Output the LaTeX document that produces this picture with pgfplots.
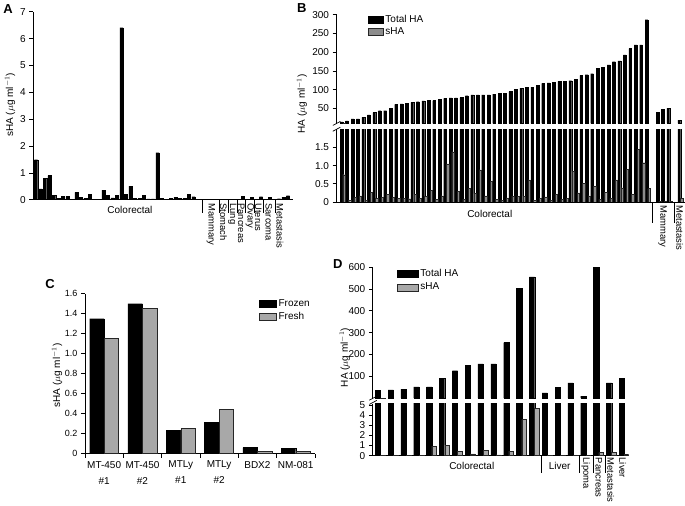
\documentclass[border=0pt]{standalone}
\usepackage{pgfplots}
\pgfplotsset{compat=1.18}
\usepackage{fontspec}
\setmainfont{Liberation Sans}
\newcommand{\unitlab}{($\mu$g ml$^{-1}$)}
\definecolor{shagray}{gray}{0.55}
\definecolor{fresh}{gray}{0.66}
\pgfplotsset{
  panel/.style={
    scale only axis, anchor=south west,
    axis x line*=bottom, axis y line*=left,
    tick align=outside, major tick length=4pt,
    axis line style={line width=0.7pt},
    tick style={black, line width=0.7pt},
    tick label style={font=\fontsize{10}{12}\selectfont},
    /pgf/number format/assume math mode=true,
    xtick=\empty,
  },
  blk/.style={fill=black, draw=black, line width=0.2pt},
  gry/.style={fill=#1, draw=black!85, line width=0.4pt},
  boxleg/.style={
    legend image code/.code={\draw[##1] (0pt,-3.5pt) rectangle (#1,3.5pt);},
    legend cell align=left,
  },
}
\begin{document}
\begin{tikzpicture}[x=1pt,y=1pt]
\path (0,0) rectangle (685,505);

% ---------------- A ----------------
\begin{axis}[panel, at={(33.3pt,306pt)}, width=259.7pt, height=188pt,
  xmin=0.4, xmax=58.1, ymin=0, ymax=7, ytick={0,...,7}]
\addplot[ybar, bar width=3.2pt, blk] coordinates {
(1,1.49)(2,0.40)(3,0.79)(4,0.90)(5,0.17)(6,0.06)(7,0.12)(8,0.12)(10,0.27)
(11,0.09)(12,0.06)(13,0.21)(14,0.02)(15,0.02)(16,0.36)(17,0.17)(18,0.07)(19,0.16)(20,6.41)
(21,0.19)(22,0.51)(23,0.05)(24,0.05)(25,0.16)(26,0.03)(27,0.03)(28,1.75)(29,0.06)
(31,0.05)(32,0.09)(33,0.06)(34,0.06)(35,0.19)(36,0.11)(37,0.01)
(39,0.01)(40,0.01)(41,0.01)(42,0.01)(43,0.01)(44,0.01)(45,0.01)(46,0.01)(47,0.13)
(48,0.02)(49,0.10)(50,0.02)(51,0.11)(52,0.02)(53,0.09)(54,0.02)(55,0.04)(56,0.09)(57,0.15)
};
\end{axis}
\node[font=\bfseries\fontsize{13}{13}\selectfont] at (8,497) {A};
\node[rotate=90, font=\fontsize{10}{12}\selectfont] at (10,401) {sHA \unitlab};
\node[font=\fontsize{10}{12}\selectfont] at (130,296) {Colorectal};
\foreach \sx in {202.7,219,228,237,245,254,263,275}
  \draw[line width=0.6pt] (\sx,306) -- (\sx,293);
\foreach \lx/\lt in {211/Mammary,223.5/Stomach,232.5/Lung,241.5/Pancreas,250/Ovary,258.5/Uterus,269/Sarcoma,280/Metastasis}
  \node[rotate=-90, anchor=west, inner sep=0pt, font=\fontsize{9.4}{10}\selectfont] at (\lx,302.5) {\lt};

% ---------------- B ----------------
\begin{axis}[panel, at={(336.7pt,382.3pt)}, width=348.3pt, height=108.7pt,
  xmin=0.083, xmax=64, ymin=10, ymax=300, ytick={50,100,...,300},
  x axis line style={draw=none}, boxleg=15pt,
  legend style={at={(0.09,1.02)}, anchor=north west, draw=none, fill=none,
    inner sep=0pt, row sep=0pt, font=\fontsize{10}{10}\selectfont}]
\addplot[ybar, bar width=2.8pt, blk] coordinates {
(1,14)(2,17)(3,22)(4,22)(5,26)(6,33)(7,39)(8,44)(9,44)(10,50)(11,61)(12,62)(13,64)
(14,66)(15,68)(16,70)(17,71)(18,71)(19,74)(20,77)(21,78)(22,78)(23,79)(24,84)(25,86)
(26,86)(27,86)(28,86)(29,88)(30,90)(31,91)(32,95)(33,101)(34,104)(35,106)(36,107)
(37,112)(38,117)(39,118)(40,120)(41,122)(42,123)(43,124)(44,128)(45,138)(46,140)
(47,143)(48,157)(49,160)(50,166)(51,175)(52,177)(53,193)(54,210)(55,220)(56,220)
(57,287)(59,39)(60,47)(61,51)(63,19)
};
\addlegendentry{Total HA}
\addplot[ybar, bar width=2.3pt, bar shift=2.6pt, gry=shagray] coordinates {(1,0.75)};
\addlegendentry{sHA}
\end{axis}
\begin{axis}[panel, at={(336.7pt,303.7pt)}, width=348.3pt, height=72.8pt,
  xmin=0.083, xmax=64, ymin=0, ymax=2, ytick={0,0.5,1,1.5}, yticklabels={0,0.5,1.0,1.5}]
\addplot[ybar, bar width=2.8pt, blk] coordinates {
(1,14)(2,17)(3,22)(4,22)(5,26)(6,33)(7,39)(8,44)(9,44)(10,50)(11,61)(12,62)(13,64)
(14,66)(15,68)(16,70)(17,71)(18,71)(19,74)(20,77)(21,78)(22,78)(23,79)(24,84)(25,86)
(26,86)(27,86)(28,86)(29,88)(30,90)(31,91)(32,95)(33,101)(34,104)(35,106)(36,107)
(37,112)(38,117)(39,118)(40,120)(41,122)(42,123)(43,124)(44,128)(45,138)(46,140)
(47,143)(48,157)(49,160)(50,166)(51,175)(52,177)(53,193)(54,210)(55,220)(56,220)
(57,287)(59,39)(60,47)(61,51)(63,19)
};
\addplot[ybar, bar width=2.3pt, bar shift=2.6pt, gry=shagray] coordinates {
(1,0.75)(2,0.05)(3,0.12)(4,0.17)(5,0.05)(6,0.27)(7,0.10)(8,0.13)(9,0.21)(10,0.13)
(11,0.10)(12,0.10)(13,0.09)(14,0.21)(15,0.10)(16,0.15)(17,0.32)(18,0.07)(19,0.17)
(20,1.05)(21,1.38)(22,0.30)(23,0.07)(24,0.38)(25,0.23)(26,0.88)(27,0.17)(28,0.56)
(29,0.07)(30,0.05)(31,0.11)(32,0.16)(33,0.15)(34,0.16)(35,0.61)(36,0.05)(37,0.10)
(38,0.14)(39,0.05)(40,0.21)(41,0.07)(42,0.10)(43,0.84)(44,0.25)(45,0.52)(46,0.17)
(47,0.43)(48,0.07)(49,0.26)(50,0.10)(51,0.61)(52,0.39)(53,0.89)(54,0.21)(55,1.45)
(56,1.08)(57,0.37)(59,0.02)(60,0.01)(61,0.01)(63,0.10)
};
\end{axis}
\draw[line width=0.7pt] (333,380.3) -- (340.5,384.3);
\draw[line width=0.7pt] (333,374.5) -- (340.5,378.5);
\node[font=\bfseries\fontsize{13}{13}\selectfont] at (302,498) {B};
\node[rotate=90, font=\fontsize{10}{12}\selectfont] at (302,402) {HA \unitlab};
\node[font=\fontsize{10}{12}\selectfont] at (490,292) {Colorectal};
\foreach \sx in {652.7,675}
  \draw[line width=0.6pt] (\sx,303.7) -- (\sx,283);
\foreach \lx/\lt in {663/Mammary,680/Metastasis}
  \node[rotate=-90, anchor=west, inner sep=0pt, font=\fontsize{9.4}{10}\selectfont] at (\lx,300.5) {\lt};

% ---------------- C ----------------
\begin{axis}[panel, at={(85pt,52pt)}, width=230pt, height=160pt,
  xmin=-0.5, xmax=5.5, ymin=0, ymax=1.6,
  ytick={0,0.2,0.4,0.6,0.8,1.0,1.2,1.4,1.6},
  yticklabels={0,0.2,0.4,0.6,0.8,1.0,1.2,1.4,1.6},
  yticklabel style={font=\fontsize{9}{11}\selectfont},
  xtick={-0.5,0.5,1.5,2.5,3.5,4.5,5.5}, x tick label as interval,
  xticklabels={{MT-450\\\#1},{MT-450\\\#2},{MTLy\\\#1},{MTLy\\\#2},BDX2,NM-081},
  xticklabel style={align=center, font=\fontsize{10}{16}\selectfont},
  boxleg=17pt,
  legend style={at={(0.757,0.975)}, anchor=north west, draw=none, fill=none,
    inner sep=0pt, row sep=0pt, font=\fontsize{10}{10}\selectfont}]
\addplot[ybar, bar width=14.5pt, bar shift=-7.25pt, blk] coordinates {
(0,1.35)(1,1.50)(2,0.23)(3,0.31)(4,0.06)(5,0.05)};
\addlegendentry{Frozen}
\addplot[ybar, bar width=14.5pt, bar shift=7.25pt, gry=fresh] coordinates {
(0,1.15)(1,1.45)(2,0.25)(3,0.44)(4,0.02)(5,0.025)};
\addlegendentry{Fresh}
\end{axis}
\node[font=\bfseries\fontsize{13}{13}\selectfont] at (50,222) {C};
\node[rotate=90, font=\fontsize{10}{12}\selectfont] at (57,130) {sHA \unitlab};

% ---------------- D ----------------
\begin{axis}[panel, at={(373pt,107.4pt)}, width=256pt, height=131.1pt,
  xmin=0.61, xmax=20.53, ymin=0, ymax=600, ytick={100,200,...,600},
  x axis line style={draw=none}, boxleg=21pt,
  legend style={at={(0.094,1.0)}, anchor=north west, draw=none, fill=none,
    inner sep=0pt, row sep=1pt, font=\fontsize{10}{10}\selectfont}]
\addplot[ybar, bar width=5.3pt, blk] coordinates {
(1,35)(2,38)(3,42)(4,52)(5,52)(6,90)(7,126)(8,152)(9,157)(10,157)(11,255)(12,504)
(13,556)(14,24)(15,51)(16,70)(17,10)(18,650)(19,70)(20,91)};
\addlegendentry{Total HA}
\addplot[ybar, bar width=4.7pt, bar shift=5pt, gry=fresh] coordinates {(1,0.05)};
\addlegendentry{sHA}
\end{axis}
\begin{axis}[panel, at={(373pt,50pt)}, width=256pt, height=51.7pt,
  xmin=0.61, xmax=20.53, ymin=0, ymax=5.1, ytick={0,...,5}]
\addplot[ybar, bar width=5.3pt, blk] coordinates {
(1,35)(2,38)(3,42)(4,52)(5,52)(6,90)(7,126)(8,152)(9,157)(10,157)(11,255)(12,504)
(13,556)(14,24)(15,51)(16,70)(17,10)(18,650)(19,70)(20,91)};
\addplot[ybar, bar width=4.7pt, bar shift=5pt, gry=fresh] coordinates {
(1,0.05)(2,0.05)(3,0.05)(4,0.05)(5,0.92)(6,1.02)(7,0.39)(8,0.16)(9,0.49)(10,0.07)
(11,0.43)(12,3.55)(13,4.67)(14,0.05)(15,0.05)(16,0.05)(17,0.02)(18,0.30)(19,0.30)(20,0.12)};
\end{axis}
\draw[line width=0.7pt] (369.5,105.4) -- (377,109.4);
\draw[line width=0.7pt] (369.5,101.2) -- (377,105.2);
\node[font=\bfseries\fontsize{13}{13}\selectfont] at (338,242) {D};
\node[rotate=90, font=\fontsize{10}{12}\selectfont] at (345,148) {HA \unitlab};
\node[font=\fontsize{10}{12}\selectfont] at (472,40) {Colorectal};
\node[font=\fontsize{10}{12}\selectfont] at (560,40) {Liver};
\foreach \sx in {541.5,580,593.5,605.7}
  \draw[line width=0.6pt] (\sx,50) -- (\sx,33);
\foreach \lx/\lt in {586/Lipoma,599/Pancreas,611/Metastasis,623/Liver}
  \node[rotate=-90, anchor=west, inner sep=0pt, font=\fontsize{9.4}{10}\selectfont] at (\lx,48) {\lt};
\end{tikzpicture}
\end{document}
